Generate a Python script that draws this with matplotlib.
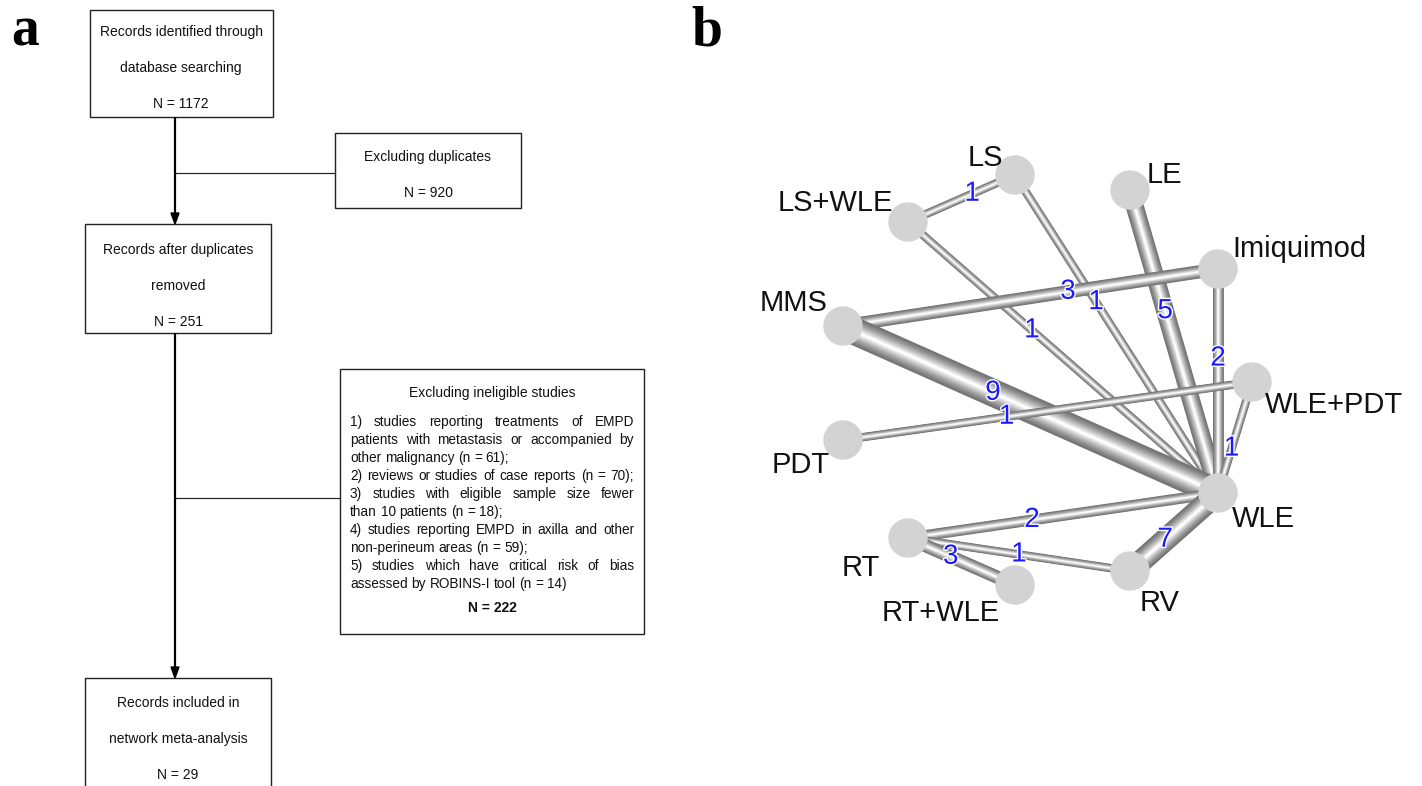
import numpy as np
import matplotlib
matplotlib.use("Agg")
import matplotlib.pyplot as plt
from matplotlib.patches import Rectangle, Circle, Polygon
from matplotlib.font_manager import FontProperties
import matplotlib.patheffects as pe

plt.rcParams['font.family'] = ['Liberation Sans', 'DejaVu Sans']

# ---- panel a: flow chart data ----
n_identified = 1172
n_duplicates = 920
n_after_dup = 251
n_ineligible = 222
n_included = 29

reason_lines = [
    ("1) studies reporting treatments of EMPD", True),
    ("patients with metastasis or accompanied by", True),
    ("other malignancy (n = 61);", False),
    ("2) reviews or studies of case reports (n = 70);", True),
    ("3) studies with eligible sample size fewer", True),
    ("than 10 patients (n = 18);", False),
    ("4) studies reporting EMPD in axilla and other", True),
    ("non-perineum areas (n = 59);", False),
    ("5) studies which have critical risk of bias", True),
    ("assessed by ROBINS-I tool (n = 14)", False),
]

# ---- panel b: network data ----
treatments = ['LS', 'LE', 'LS+WLE', 'Imiquimod', 'MMS', 'WLE+PDT',
              'PDT', 'WLE', 'RT', 'RT+WLE', 'RV']
node_x = [1015, 1130, 908, 1218, 843, 1252, 843, 1218, 908, 1015, 1130]
node_y = [175, 190, 222, 269, 326, 382, 440, 493, 538, 585, 571]

edge_from = ['LS', 'LS', 'LS+WLE', 'LE', 'Imiquimod', 'Imiquimod', 'MMS',
             'PDT', 'WLE', 'RT', 'RT', 'RT', 'RV']
edge_to = ['LS+WLE', 'WLE', 'WLE', 'WLE', 'MMS', 'WLE', 'WLE',
           'WLE+PDT', 'WLE+PDT', 'WLE', 'RV', 'RT+WLE', 'WLE']
n_studies = [1, 1, 1, 5, 3, 2, 9, 1, 1, 2, 1, 3, 7]

# label offsets (dx, dy, ha) relative to node centre, in pixels
label_off = {
    'LS': (-12, -9, 'right'), 'LE': (17, -7, 'left'),
    'LS+WLE': (-15, -11, 'right'), 'Imiquimod': (14, -12, 'left'),
    'MMS': (-15, -15, 'right'), 'WLE+PDT': (13, 31, 'left'),
    'PDT': (-13, 33, 'right'), 'WLE': (14, 34, 'left'),
    'RT': (-28, 38, 'right'), 'RT+WLE': (-15, 36, 'right'),
    'RV': (10, 40, 'left'),
}
label_frac = [0.4] * len(n_studies)
label_frac[10] = 0.5

W, H = 1422, 786
fig = plt.figure(figsize=(W / 100, H / 100), dpi=100)
ax = fig.add_axes([0, 0, 1, 1])
ax.set_xlim(0, W)
ax.set_ylim(H, 0)
ax.axis('off')

PT = 0.72  # points per pixel at dpi 100


def box(x0, y0, x1, y1):
    ax.add_patch(Rectangle((x0, y0), x1 - x0, y1 - y0, fill=False,
                           ec='#222222', lw=1.4 * PT, zorder=3))


def arrow_down(x, y0, y1):
    ax.plot([x, x], [y0, y1 - 9], color='black', lw=2.2 * PT, zorder=3,
            solid_capstyle='butt')
    ax.add_patch(Polygon([[x - 4, y1 - 11], [x + 4, y1 - 11], [x, y1]],
                         closed=True, color='black', zorder=3))


def lines_in(xc, ys, texts, size=10, bold=False):
    for y, t in zip(ys, texts):
        ax.text(xc, y, t, ha='center', va='center', fontsize=size,
                fontweight='bold' if bold else 'normal', color='#111111')


# panel letters
ax.text(11, 45, 'a', fontsize=40, fontweight='bold', family='Liberation Serif',
        ha='left', va='baseline')
ax.text(691, 45, 'b', fontsize=40, fontweight='bold', family='Liberation Serif',
        ha='left', va='baseline')

# boxes
box(90, 10, 273, 117)
lines_in(181, [32, 68, 104], ['Records identified through', 'database searching',
                              'N = %d' % n_identified])
box(335, 133, 521, 208)
lines_in(428, [157, 193], ['Excluding duplicates', 'N = %d' % n_duplicates])
box(85, 224, 271, 333)
lines_in(178, [250, 286, 322], ['Records after duplicates', 'removed',
                                'N = %d' % n_after_dup])
box(340, 369, 644, 634)
box(85, 678, 271, 800)
lines_in(178, [703, 739, 775], ['Records included in', 'network meta-analysis',
                                'N = %d' % n_included])

# connectors
arrow_down(175, 117, 224)
ax.plot([175, 335], [173, 173], color='#222222', lw=1.2 * PT, zorder=3)
arrow_down(175, 333, 678)
ax.plot([175, 340], [498, 498], color='#222222', lw=1.2 * PT, zorder=3)

# big box text
ax.text(492, 393, 'Excluding ineligible studies', ha='center', va='center',
        fontsize=10, color='#111111')
fp = FontProperties(family='Liberation Sans', size=9.8)
renderer = fig.canvas.get_renderer()


def wpx(s):
    w, h, d = renderer.get_text_width_height_descent(s, fp, ismath=False)
    return w


left, right = 350, 634
y = 426
for text, just in reason_lines:
    words = text.split()
    widths = [wpx(w) for w in words]
    if just and len(words) > 1:
        gap = (right - left - sum(widths)) / (len(words) - 1)
    else:
        gap = wpx('a a') - wpx('aa')
    x = left
    for w, wd in zip(words, widths):
        ax.text(x, y, w, ha='left', va='baseline', fontproperties=fp,
                color='#111111')
        x += wd + gap
    y += 18
ax.text(492, 608, 'N = %d' % n_ineligible, ha='center', va='center',
        fontsize=10, fontweight='bold', color='#111111')

# ---- network ----
pos = {t: (x, y) for t, x, y in zip(treatments, node_x, node_y)}


def tube(x0, y0, x1, y1, w):
    nl = 12
    for k in range(nl):
        f = 1 - k / nl
        g = 0.45 + 0.55 * (k / (nl - 1)) ** 1.3
        ax.plot([x0, x1], [y0, y1], color=(g, g, g), lw=w * f * PT,
                solid_capstyle='butt', zorder=2)


for a, b, n in zip(edge_from, edge_to, n_studies):
    (x0, y0), (x1, y1) = pos[a], pos[b]
    tube(x0, y0, x1, y1, 6 + 2.4 * n)

for a, b, n, fr in zip(edge_from, edge_to, n_studies, label_frac):
    (x0, y0), (x1, y1) = pos[a], pos[b]
    ax.text(x0 + fr * (x1 - x0), y0 + fr * (y1 - y0), str(n), color='#1a1aff',
            fontsize=20, ha='center', va='center', zorder=6,
            path_effects=[pe.withStroke(linewidth=2, foreground='white')])

for t in treatments:
    x, y = pos[t]
    ax.add_patch(Circle((x, y), 19, color='#d3d3d3', zorder=5))
    dx, dy, ha = label_off[t]
    ax.text(x + dx, y + dy, t, ha=ha, va='baseline', fontsize=21,
            color='#111111', zorder=6)

fig.savefig('out.png', dpi=100)
